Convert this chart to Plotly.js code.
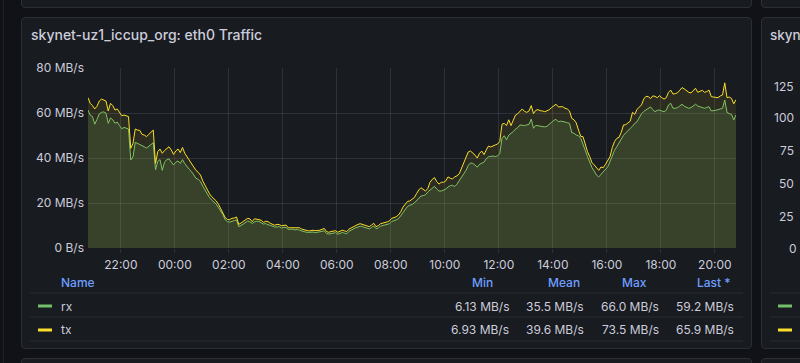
<!DOCTYPE html>
<html>
<head>
<meta charset="utf-8">
<script src="https://cdn.plot.ly/plotly-3.0.1.min.js"></script>
<style>
  html, body { margin:0; padding:0; background:#111217; width:800px; height:363px; overflow:hidden; }
  .panel { position:absolute; box-sizing:border-box; background:#181b1f; border:1px solid #2b2e34; border-radius:4px; }
  #strip { position:absolute; left:3px; top:0; width:1px; height:363px; background:#1f2126; }
  #chart { position:absolute; left:0; top:0; width:800px; height:363px; }
</style>
</head>
<body>
<div id="strip"></div>
<div class="panel" style="left:21px; top:-20px; width:731px; height:28px;"></div>
<div class="panel" style="left:761px; top:-20px; width:60px; height:28px;"></div>
<div class="panel" style="left:21px; top:17px; width:731px; height:332px;"></div>
<div class="panel" style="left:761px; top:17px; width:60px; height:332px;"></div>
<div class="panel" style="left:21px; top:358px; width:731px; height:30px;"></div>
<div class="panel" style="left:761px; top:358px; width:60px; height:30px;"></div>
<div id="chart"></div>
<script>
// ---- data (5-minute samples) ----
const START = '2024-05-14T20:47:00';
const STEP_MIN = 5;
const seriesNames = ['rx', 'tx'];
const rxValues = [
  61.3, 59.0, 58.4, 55.0, 57.2, 59.6, 60.3, 60.5, 59.9, 55.4,
  57.8, 57.0, 55.4, 56.0, 54.4, 53.0, 53.6, 53.2, 52.9, 39.1,
  40.5, 47.0, 46.5, 46.0, 45.8, 45.0, 44.4, 45.2, 46.1, 46.8,
  34.7, 38.5, 39.3, 34.5, 38.1, 39.3, 39.6, 38.4, 36.9, 38.1,
  38.7, 37.6, 39.3, 37.5, 36.1, 35.0, 33.9, 32.5, 31.0, 30.5,
  29.5, 27.5, 25.8, 23.9, 22.4, 21.3, 20.3, 19.5, 17.9, 16.4,
  14.8, 12.5, 11.7, 11.5, 12.0, 12.2, 12.5, 9.5, 10.0, 10.7,
  11.4, 12.0, 11.6, 10.9, 11.6, 11.9, 11.8, 11.2, 10.6, 10.9,
  10.3, 10.1, 9.6, 9.3, 9.4, 9.5, 8.9, 9.2, 9.1, 8.3,
  8.2, 8.4, 8.0, 8.3, 7.9, 7.5, 7.2, 7.0, 6.9, 7.0,
  7.1, 6.8, 6.9, 7.0, 7.4, 7.7, 6.4, 6.2, 6.3, 6.6,
  6.8, 6.1, 6.4, 6.9, 6.6, 6.3, 7.4, 8.0, 8.5, 9.0,
  9.3, 9.7, 9.5, 9.1, 8.8, 8.5, 9.1, 9.8, 8.6, 8.9,
  9.7, 9.9, 10.1, 10.4, 10.8, 11.8, 12.0, 12.5, 13.0, 14.3,
  16.0, 17.4, 18.5, 19.0, 19.3, 20.0, 20.9, 22.1, 23.1, 23.3,
  23.7, 24.9, 25.6, 26.4, 27.4, 26.2, 25.3, 25.3, 25.8, 26.2,
  27.1, 27.7, 27.9, 27.3, 28.4, 30.1, 31.6, 33.0, 34.5, 36.7,
  37.8, 37.6, 36.9, 35.9, 37.2, 37.8, 38.2, 39.6, 40.6, 40.7,
  40.9, 40.6, 41.0, 41.9, 48.7, 49.9, 48.1, 50.2, 50.8, 51.7,
  52.9, 53.5, 54.7, 54.5, 54.4, 54.7, 55.0, 57.3, 53.2, 54.5,
  54.4, 54.1, 53.9, 53.8, 54.1, 55.0, 55.9, 56.7, 57.2, 56.1,
  56.4, 56.3, 56.0, 55.7, 55.4, 51.3, 51.0, 50.2, 49.9, 48.7,
  45.5, 43.4, 40.6, 38.1, 35.7, 34.2, 32.4, 31.6, 32.7, 33.8,
  34.7, 36.1, 38.4, 41.3, 43.4, 45.0, 46.5, 48.4, 50.1, 51.3,
  52.1, 53.2, 54.1, 55.4, 56.1, 57.9, 59.7, 60.7, 61.5, 62.1,
  62.7, 61.5, 60.6, 61.2, 61.3, 60.9, 60.6, 61.2, 63.6, 64.3,
  62.1, 62.1, 62.4, 63.1, 63.9, 63.0, 62.7, 62.1, 62.4, 63.1,
  63.9, 63.1, 62.8, 62.2, 62.1, 62.5, 62.8, 60.9, 60.9, 61.2,
  61.5, 61.9, 62.1, 65.8, 60.3, 59.7, 59.4, 56.9, 59.2
];
const txValues = [
  66.8, 64.3, 63.3, 61.8, 63.0, 65.3, 66.2, 65.9, 65.3, 60.9,
  64.3, 63.3, 61.3, 61.8, 60.1, 58.8, 59.1, 58.7, 58.4, 44.3,
  46.5, 52.9, 52.4, 52.3, 50.5, 50.2, 49.5, 50.5, 51.4, 52.4,
  37.6, 42.8, 44.0, 42.1, 43.3, 44.3, 45.0, 43.6, 41.6, 43.1,
  44.0, 42.4, 44.7, 42.1, 40.6, 39.1, 37.6, 35.7, 34.5, 33.6,
  32.4, 29.8, 27.7, 25.8, 24.1, 22.8, 21.8, 20.9, 19.4, 17.6,
  15.9, 13.5, 12.7, 12.6, 13.2, 13.3, 13.8, 10.5, 11.1, 11.7,
  12.4, 13.2, 12.9, 11.7, 13.0, 12.9, 12.6, 12.3, 11.4, 11.9,
  11.7, 11.0, 10.4, 10.1, 10.5, 10.4, 9.9, 10.1, 10.2, 9.0,
  9.0, 9.0, 9.0, 9.3, 9.0, 8.4, 8.1, 7.9, 7.6, 7.7,
  7.9, 7.7, 7.7, 7.9, 8.3, 8.7, 7.3, 7.0, 7.3, 7.6,
  7.7, 7.0, 7.3, 7.9, 7.6, 7.3, 8.4, 9.0, 9.6, 10.1,
  10.5, 10.8, 10.5, 10.2, 9.9, 9.5, 10.2, 11.0, 9.5, 9.9,
  10.8, 11.0, 11.3, 11.6, 12.1, 13.2, 13.5, 13.9, 14.7, 16.1,
  18.2, 19.7, 20.7, 20.9, 21.5, 22.4, 24.1, 25.8, 26.8, 25.9,
  25.3, 26.4, 29.2, 30.5, 31.3, 29.5, 28.4, 29.2, 29.2, 29.8,
  31.6, 31.0, 30.7, 31.6, 32.1, 33.0, 35.4, 37.6, 40.1, 42.7,
  43.1, 42.4, 41.3, 40.0, 42.1, 43.1, 41.5, 43.6, 45.3, 44.9,
  45.2, 45.8, 46.2, 47.3, 55.0, 55.4, 54.4, 57.0, 54.4, 56.9,
  59.1, 59.7, 60.6, 61.8, 60.7, 60.3, 60.9, 63.3, 59.7, 61.2,
  61.5, 61.0, 60.9, 60.6, 61.0, 61.5, 62.4, 63.1, 63.9, 62.7,
  62.7, 62.8, 62.1, 61.8, 60.9, 57.6, 57.0, 55.6, 52.4, 49.6,
  49.5, 45.5, 42.8, 40.6, 37.9, 36.9, 35.4, 34.5, 36.0, 35.7,
  37.2, 38.7, 40.6, 44.6, 47.3, 48.7, 49.2, 51.4, 54.7, 54.8,
  55.6, 56.4, 60.3, 59.4, 61.6, 62.7, 63.6, 66.2, 67.4, 67.3,
  66.4, 67.6, 67.4, 66.8, 67.7, 66.8, 66.2, 66.8, 69.2, 70.2,
  68.4, 68.6, 69.0, 70.1, 71.3, 70.7, 69.8, 69.2, 68.9, 70.1,
  71.0, 69.2, 69.5, 70.1, 69.2, 69.5, 70.2, 67.3, 67.1, 67.1,
  66.8, 67.6, 68.0, 73.4, 66.8, 67.1, 66.5, 64.1, 65.9
];
const yTickVals = [0, 20, 40, 60, 80];
const yTickText = ['0 B/s', '20 MB/s', '40 MB/s', '60 MB/s', '80 MB/s'];
const legendHeaders = ['Min', 'Mean', 'Max', 'Last *'];
const rxStats = ['6.13 MB/s', '35.5 MB/s', '66.0 MB/s', '59.2 MB/s'];
const txStats = ['6.93 MB/s', '39.6 MB/s', '73.5 MB/s', '65.9 MB/s'];
const sidePanelTickText = ['125', '100', '75', '50', '25', '0'];
const sidePanelTitle = 'skyn';
const titleText = 'skynet-uz1_iccup_org: eth0 Traffic';

// ---- styling ----
const FONT = 'Inter, "Noto Sans", sans-serif';
const TXT = '#ccccdc';
const BLUE = '#6e9fff';
const GREEN = '#73bf69';
const YELLOW = '#fade2a';
const GRID = 'rgba(204,204,220,0.13)';

function pad(n){ return (n < 10 ? '0' : '') + n; }
function fmt(d){ return d.getFullYear()+'-'+pad(d.getMonth()+1)+'-'+pad(d.getDate())+' '+pad(d.getHours())+':'+pad(d.getMinutes()); }
const t0 = new Date(START);
const times = rxValues.map((_, i) => fmt(new Date(t0.getTime() + i*STEP_MIN*60000)));
const xEnd = fmt(new Date(t0.getTime() + 24*3600000));

// pixel -> paper helpers (plot area 88..736 x 68..248)
const L = 88, R = 736, T = 68, B = 248;
const px = x => (x - L) / (R - L);
const py = y => (B - y) / (B - T);

const traces = [
  { x: times, y: rxValues, name: seriesNames[0], type: 'scatter', mode: 'lines',
    line: { color: GREEN, width: 1 }, fill: 'tozeroy', fillcolor: 'rgba(115,191,105,0.15)', hoverinfo: 'skip' },
  { x: times, y: txValues, name: seriesNames[1], type: 'scatter', mode: 'lines',
    line: { color: YELLOW, width: 1 }, fill: 'tozeroy', fillcolor: 'rgba(250,222,42,0.09)', hoverinfo: 'skip' }
];

const ann = [];
function A(text, x, y, anchor, color, weight, size){
  ann.push({ text: text, xref: 'paper', yref: 'paper', x: px(x), y: py(y), xanchor: anchor, yanchor: 'middle',
    showarrow: false, borderpad: 0, font: { family: FONT, size: size || 12, color: color || TXT, weight: weight || 400 } });
}
// legend table
A('Name', 60, 282, 'left', BLUE, 500);
const headerRight = [494, 581, 648, 732];
const valueRight = [510, 585, 660, 735];
legendHeaders.forEach((h, i) => A(h, headerRight[i], 282, 'right', BLUE, 500));
A(seriesNames[0], 60, 306, 'left');
A(seriesNames[1], 60, 329, 'left');
rxStats.forEach((v, i) => A(v, valueRight[i], 306, 'right'));
txStats.forEach((v, i) => A(v, valueRight[i], 329, 'right'));
// neighbouring panel (only its left part is visible)
const sideY = [86, 117, 150, 183, 216, 248];
const sideRight = [795, 795, 795, 795, 795, 798];
sidePanelTickText.forEach((t, i) => A(t, sideRight[i], sideY[i], 'right'));
A(sidePanelTitle, 769, 35, 'left', TXT, 500, 13.5);

const shapes = [];
function hline(x0, x1, y, color){
  shapes.push({ type: 'line', xref: 'paper', yref: 'paper', x0: px(x0), x1: px(x1), y0: py(y), y1: py(y), line: { color: color, width: 1 } });
}
function pill(x0, x1, y, color){
  shapes.push({ type: 'rect', xref: 'paper', yref: 'paper', x0: px(x0), x1: px(x1), y0: py(y - 1.5), y1: py(y + 1.5), line: { width: 0 }, fillcolor: color });
}
[293, 317, 341].forEach(y => { hline(30, 743, y, '#2a2d33'); hline(770, 830, y, '#2a2d33'); });
pill(38, 52, 306, GREEN); pill(38, 52, 330, YELLOW);
pill(778, 792, 306, GREEN); pill(778, 792, 330, YELLOW);

const layout = {
  width: 800, height: 363,
  margin: { l: L, r: 800 - R, t: T, b: 363 - B, pad: 0 },
  paper_bgcolor: 'rgba(0,0,0,0)', plot_bgcolor: 'rgba(0,0,0,0)',
  showlegend: false,
  font: { family: FONT, size: 12, color: TXT },
  title: { text: titleText, xref: 'container', yref: 'container', x: 31/800, xanchor: 'left',
           y: 1 - 35/363, yanchor: 'middle', font: { family: FONT, size: 14, color: TXT, weight: 500 } },
  xaxis: { type: 'date', range: [times[0], xEnd], tickformat: '%H:%M', dtick: 7200000, tick0: '2024-05-14 00:00',
           showgrid: true, gridcolor: GRID, gridwidth: 1, zeroline: false, showline: false,
           ticks: 'outside', ticklen: 4, tickcolor: GRID, tickwidth: 1, ticklabelstandoff: 2,
           tickfont: { family: FONT, size: 12, color: TXT }, fixedrange: true },
  yaxis: { range: [0, 80], tickvals: yTickVals, ticktext: yTickText,
           showgrid: true, gridcolor: GRID, gridwidth: 1, zeroline: false, showline: false,
           ticks: '', ticklabelstandoff: 3,
           tickfont: { family: FONT, size: 12, color: TXT }, fixedrange: true },
  annotations: ann,
  shapes: shapes
};

Plotly.newPlot('chart', traces, layout, { staticPlot: true, displayModeBar: false });
</script>
</body>
</html>
